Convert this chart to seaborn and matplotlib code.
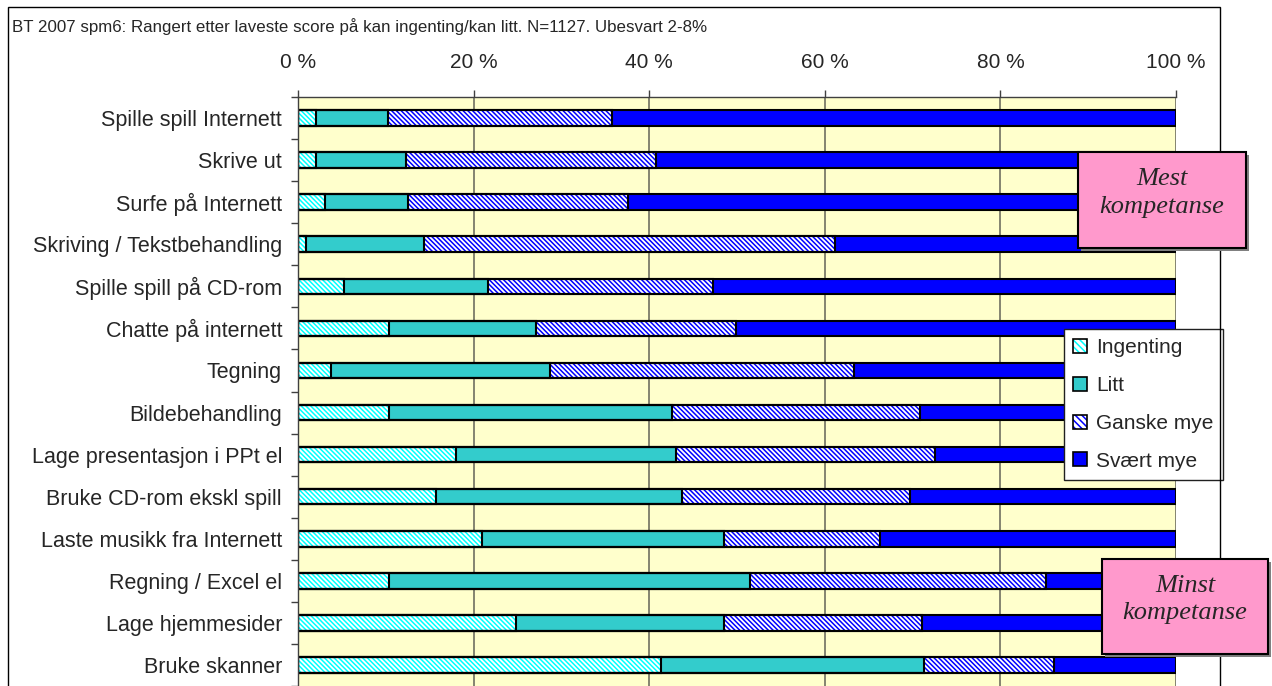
import matplotlib
matplotlib.use('Agg')
import matplotlib.pyplot as plt
from matplotlib.patches import Patch, Rectangle
from matplotlib.ticker import FixedLocator
import seaborn as sns
import numpy as np

title = "BT 2007 spm6: Rangert etter laveste score på kan ingenting/kan litt. N=1127. Ubesvart 2-8%"

categories = [
    "Spille spill Internett",
    "Skrive ut",
    "Surfe på Internett",
    "Skriving / Tekstbehandling",
    "Spille spill på CD-rom",
    "Chatte på internett",
    "Tegning",
    "Bildebehandling",
    "Lage presentasjon i PPt el",
    "Bruke CD-rom ekskl spill",
    "Laste musikk fra Internett",
    "Regning / Excel el",
    "Lage hjemmesider",
    "Bruke skanner",
]

# percent of answers per level
ingenting = [2.0, 2.0, 3.1, 0.9, 5.2, 10.4, 3.8, 10.4, 18.0, 15.7, 20.9, 10.4, 24.8, 41.4]
litt = [8.2, 10.3, 9.4, 13.5, 16.4, 16.7, 24.9, 32.2, 25.1, 28.0, 27.6, 41.1, 23.7, 29.9]
ganske_mye = [25.6, 28.5, 25.1, 46.8, 25.7, 22.8, 34.6, 28.2, 29.5, 26.0, 17.8, 33.7, 22.6, 14.8]
svaert_mye = [64.2, 59.2, 62.4, 38.8, 52.7, 50.1, 36.7, 29.2, 27.4, 30.3, 33.7, 14.8, 28.9, 13.9]

series_names = ["Ingenting", "Litt", "Ganske mye", "Svært mye"]
x_ticks = [0, 20, 40, 60, 80, 100]
x_tick_labels = [f"{t} %" for t in x_ticks]

sns.set_theme(style='white')
plt.rcParams['font.family'] = ['Liberation Sans', 'DejaVu Sans']
plt.rcParams['hatch.linewidth'] = 1.1

HATCH = '\\' * 7
styles = [
    dict(color='white', edgecolor='#00FFFF', hatch=HATCH, linewidth=0),
    dict(color='#33CCCC', linewidth=0),
    dict(color='white', edgecolor='#0000FF', hatch=HATCH, linewidth=0),
    dict(color='#0000FF', linewidth=0),
]

cum = np.cumsum([ingenting, litt, ganske_mye, svaert_mye], axis=0)

W, H = 1272, 686
fig = plt.figure(figsize=(W / 100, H / 100), dpi=100)
ax = fig.add_axes([298 / W, 0, 878 / W, 589 / H])
ax.set_facecolor('#FFFFCC')

# widest cumulative layer first, shorter ones on top
for i in [3, 2, 1, 0]:
    sns.barplot(x=cum[i], y=categories, orient='h', ax=ax, width=0.37,
                errorbar=None, saturation=1, **styles[i])
# black outlines for every segment
for i in range(4):
    sns.barplot(x=cum[i], y=categories, orient='h', ax=ax, width=0.37,
                errorbar=None, fill=False, color='black', linewidth=1.5, saturation=1)

ax.set_xlim(0, 100)
ax.set_xlabel('')
ax.set_ylabel('')
ax.set_axisbelow(True)
ax.xaxis.grid(True, color='#6f6f60', linewidth=1.2)
ax.yaxis.grid(False)

ax.xaxis.tick_top()
ax.set_xticks(x_ticks)
ax.set_xticklabels(x_tick_labels)
ax.tick_params(axis='x', which='major', direction='out', length=5, width=1,
               color='#404040', pad=13, labelsize=15, top=True, bottom=False)
ax.tick_params(axis='y', which='major', length=0, pad=11.5, labelsize=15.5)
ax.yaxis.set_minor_locator(FixedLocator(np.arange(len(categories) + 1) - 0.5))
ax.tick_params(axis='y', which='minor', direction='out', length=5, width=1,
               color='#404040', left=True)

for side in ['right', 'bottom']:
    ax.spines[side].set_visible(False)
for side in ['left', 'top']:
    ax.spines[side].set_color('#404040')
    ax.spines[side].set_linewidth(1)

handles = [
    (Patch(facecolor='white', edgecolor='#00FFFF', hatch='\\' * 5, linewidth=0),
     Patch(facecolor='none', edgecolor='black', linewidth=1.2)),
    Patch(facecolor='#33CCCC', edgecolor='black', linewidth=1.2),
    (Patch(facecolor='white', edgecolor='#0000FF', hatch='\\' * 5, linewidth=0),
     Patch(facecolor='none', edgecolor='black', linewidth=1.2)),
    Patch(facecolor='#0000FF', edgecolor='black', linewidth=1.2),
]
leg = ax.legend(handles, series_names, loc='upper left', bbox_to_anchor=(0.872, 0.606),
                frameon=True, fancybox=False, framealpha=1, edgecolor='#202020',
                fontsize=15, handlelength=0.65, handleheight=0.65, handletextpad=0.45,
                labelspacing=0.9, borderpad=0.45, borderaxespad=0)
leg.get_frame().set_linewidth(1)

# outer chart frame
fig.add_artist(Rectangle((8 / W, -0.02), 1212 / W, 1.02 - 7 / H, transform=fig.transFigure,
                         facecolor='none', edgecolor='black', linewidth=1))

fig.text(12 / W, 1 - 27 / H, title, fontsize=12.2, va='center', ha='left')


def note_box(x0, y0, x1, y1, text):
    # pixel box measured from the top-left corner of the picture
    fig.add_artist(Rectangle(((x0 + 3) / W, 1 - (y1 + 3) / H), (x1 - x0) / W, (y1 - y0) / H,
                             transform=fig.transFigure, facecolor='#808080', edgecolor='none'))
    fig.add_artist(Rectangle((x0 / W, 1 - y1 / H), (x1 - x0) / W, (y1 - y0) / H,
                             transform=fig.transFigure, facecolor='#FF99CC',
                             edgecolor='black', linewidth=1.5))
    fig.text((x0 + x1) / 2 / W, 1 - ((y0 + y1) / 2 - 7) / H, text, ha='center', va='center',
             fontsize=19, style='italic', family=['Liberation Serif', 'DejaVu Serif'],
             linespacing=1.3)


note_box(1078, 152, 1246, 248, "Mest\nkompetanse")
note_box(1102, 559, 1268, 654, "Minst\nkompetanse")

fig.savefig('out.png', dpi=100)
